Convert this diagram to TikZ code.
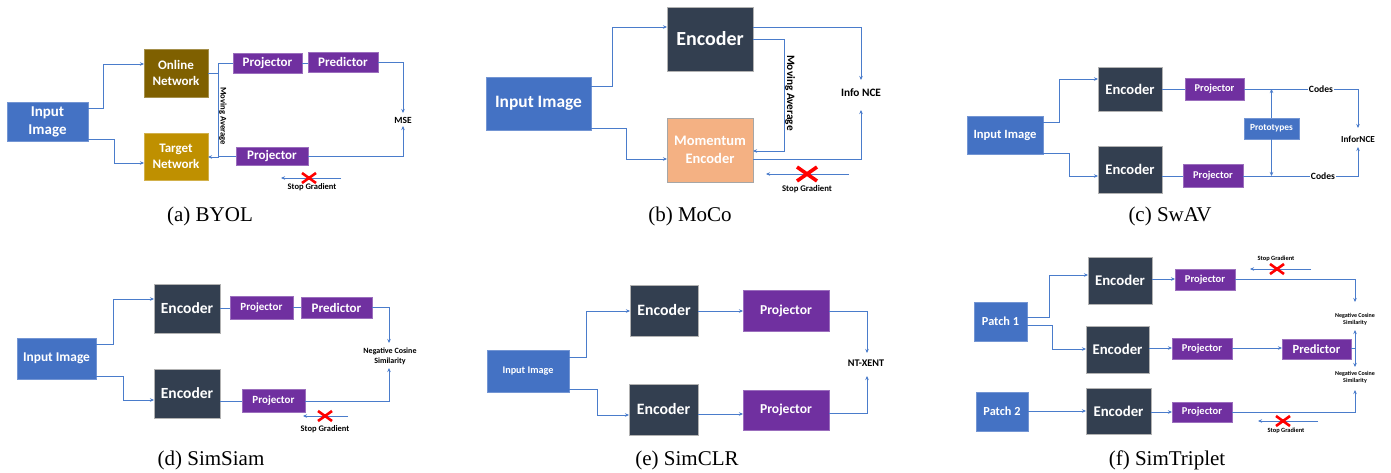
\documentclass[tikz,border=0pt]{standalone}
\usepackage{fontspec}
\setmainfont{Carlito}
\newfontfamily\capfont{Liberation Serif}
\usetikzlibrary{arrows.meta}
\definecolor{cblue}{HTML}{4472C4}
\definecolor{cline}{HTML}{4A7CCB}
\definecolor{cdark}{HTML}{333F50}
\definecolor{cpurple}{HTML}{7030A0}
\definecolor{cbrown}{HTML}{7F6000}
\definecolor{cgold}{HTML}{BF9000}
\definecolor{corange}{HTML}{F4B183}
\definecolor{cred}{HTML}{FF0000}
\begin{document}
\begin{tikzpicture}[x=1pt,y=-1pt,
 box/.style={inner sep=0pt, outer sep=0pt, text=white, align=center, line width=0.6pt},
 sz/.style 2 args={minimum width=#1, minimum height=#2},
 fs/.style 2 args={font=\fontsize{#1}{#2}\selectfont\bfseries},
 blu/.style={box, fill=cblue, draw=cblue!75!white},
 enc/.style={box, fill=cdark, draw=gray!60},
 pur/.style={box, fill=cpurple, draw=cpurple!70!white},
 lbl/.style={inner sep=1pt, outer sep=0pt, text=black, align=center},
 ln/.style={draw=cline, line width=0.9pt},
 arr/.style={ln, -{Stealth[length=4pt,width=3.5pt]}},
 captxt/.style={anchor=base, font=\capfont\fontsize{21}{24}\selectfont},
 xs/.pic={\draw[cred, line width=2.6pt] (-7,-5) -- (7,5) (-7,5) -- (7,-5);},
 xl/.pic={\draw[cred, line width=3.6pt] (-10,-7) -- (10,7) (-10,7) -- (10,-7);}
]
\fill[white] (0,0) rectangle (1391,472);
\useasboundingbox (0,0) rectangle (1391,472);

% ================= (a) BYOL =================
\node[blu, sz={81}{39}, fs={15}{18}] (inA) at (47.5,121.5) {Input\\Image};
\node[box, fill=cbrown, draw=cbrown!70!white, sz={64}{48}, fs={13}{16}] (onA) at (176,73) {Online\\Network};
\node[box, fill=cgold, draw=cgold!70!white, sz={64}{47}, fs={13}{16}] (tgA) at (176,156.5) {Target\\Network};
\node[pur, sz={69}{20}, fs={13}{15}] (prA1) at (267.5,63) {Projector};
\node[pur, sz={70}{20}, fs={13}{15}] (pdA) at (343,62) {Predictor};
\node[pur, sz={72}{18}, fs={13}{15}] (prA2) at (272,156) {Projector};
\node[lbl, fs={9.4}{11}] (mseA) at (403,120) {MSE};
\node[lbl, rotate=-90, fs={8.6}{10}] (maA) at (223,116) {Moving Average};
\draw[arr] (inA.east |- 0,108) -| (103,64) -- (onA.west |- 0,64);
\draw[arr] (inA.east |- 0,139) -| (114,163) -- (tgA.west |- 0,163);
\draw[ln] (onA.east |- 0,73) -| (218,63) -- (prA1.west);
\draw[arr] (218,63) -- (218,157) -- (tgA.east |- 0,157);
\draw[ln] (prA2.west) -- (218,156);
\draw[ln] (prA1.east) -- (pdA.west |- prA1.east);
\draw[arr] (pdA.east) -| (mseA.center |- 0,113);
\draw[arr] (prA2.east) -| (mseA.center |- 0,126);
\coordinate (sgA1) at (341,178);
\coordinate (sgA2) at (281,178);
\draw[arr] (sgA1) -- (sgA2);
\pic at (309,178) {xs};
\node[lbl, fs={8.5}{10}] (sgtA) at (312,187) {Stop Gradient};
\node[captxt] (capA) at (210,221) {(a) BYOL};

% ================= (b) MoCo =================
\node[blu, sz={105}{53}, fs={17.4}{20}] (inB) at (538.5,103.5) {Input Image};
\node[enc, sz={86}{64}, fs={20}{24}] (encB) at (710,39) {Encoder};
\node[box, fill=corange, draw=gray!70, sz={86}{64}, fs={14.5}{18}] (momB) at (710,150) {Momentum\\Encoder};
\node[lbl, fs={11.3}{13}] (nceB) at (861,93) {Info NCE};
\node[lbl, rotate=-90, fs={11.3}{13}] (maB) at (790,93) {Moving Average};
\draw[arr] (inB.east |- 0,86) -| (612,27) -- (encB.west |- 0,27);
\draw[arr] (inB.east |- 0,128) -| (626,159) -- (momB.west |- 0,159);
\draw[arr] (encB.east |- 0,27) -| (nceB.center |- 0,80);
\draw[arr] (encB.east |- 0,39) -| (784,151) -- (momB.east |- 0,151);
\draw[arr] (momB.east |- 0,159) -| (nceB.center |- 0,110);
\coordinate (sgB1) at (849,174);
\coordinate (sgB2) at (766,174);
\draw[arr] (sgB1) -- (sgB2);
\pic at (807,174) {xl};
\node[lbl, fs={8.7}{10}] (sgtB) at (807,189) {Stop Gradient};
\node[captxt] (capB) at (690,221) {(b) MoCo};

% ================= (c) SwAV =================
\node[blu, sz={76}{38}, fs={12.6}{15}] (inC) at (1005,135) {Input Image};
\node[enc, sz={64}{44}, fs={14.6}{17}] (encC1) at (1130,89) {Encoder};
\node[enc, sz={64}{47}, fs={14.6}{17}] (encC2) at (1130,169.5) {Encoder};
\node[pur, sz={59}{22}, fs={10.4}{12}] (prC1) at (1214.5,89) {Projector};
\node[pur, sz={60}{23}, fs={10.4}{12}] (prC2) at (1213,175.5) {Projector};
\node[blu, sz={55}{21}, fs={9.4}{11}] (protoC) at (1271.5,128.5) {Prototypes};
\node[lbl, fs={9.6}{11}] (codesC1) at (1321,89) {Codes};
\node[lbl, fs={9.6}{11}] (codesC2) at (1323,176) {Codes};
\node[lbl, fs={9.2}{11}] (nceC) at (1358,139) {InforNCE};
\draw[arr] (inC.east |- 0,122) -| (1059,79) -- (encC1.west |- 0,79);
\draw[arr] (inC.east |- 0,153) -| (1069,176) -- (encC2.west |- 0,176);
\draw[ln] (encC1.east) -- (prC1.west);
\draw[ln] (encC2.east |- 0,176) -- (prC2.west |- 0,176);
\draw[ln] (prC1.east) -- (codesC1.west);
\draw[ln] (prC2.east |- 0,176) -- (codesC2.west);
\draw[arr] (codesC1.east) -| (nceC.center |- 0,128);
\draw[arr] (codesC2.east) -| (nceC.center |- 0,147);
\draw[arr] (protoC.north) -- (protoC.north |- 0,89);
\draw[arr] (protoC.south) -- (protoC.south |- 0,176);
\node[captxt] (capC) at (1170,221) {(c) SwAV};

% ================= (d) SimSiam =================
\node[blu, sz={79}{41}, fs={13.4}{16}] (inD) at (56.5,358.5) {Input Image};
\node[enc, sz={66}{49}, fs={15.5}{18}] (encD1) at (187,308.5) {Encoder};
\node[enc, sz={66}{49}, fs={15.5}{18}] (encD2) at (187,393.5) {Encoder};
\node[pur, sz={63}{23}, fs={11}{13}] (prD1) at (261.5,307.5) {Projector};
\node[pur, sz={71}{21}, fs={13}{15}] (pdD) at (336.5,307.5) {Predictor};
\node[pur, sz={63}{23}, fs={11}{13}] (prD2) at (273.5,400.5) {Projector};
\node[lbl, fs={8}{10}] (ncsD) at (390,356) {Negative Cosine\\Similarity};
\draw[arr] (inD.east |- 0,344) -| (113,299) -- (encD1.west |- 0,299);
\draw[arr] (inD.east |- 0,376) -| (123,400) -- (encD2.west |- 0,400);
\draw[ln] (encD1.east |- 0,308) -- (prD1.west |- 0,308);
\draw[ln] (prD1.east) -- (pdD.west);
\draw[arr] (pdD.east) -| (389,343);
\draw[ln] (encD2.east |- 0,401) -- (prD2.west |- 0,401);
\draw[arr] (prD2.east |- 0,401) -| (389,368);
\coordinate (sgD1) at (348,416);
\coordinate (sgD2) at (303,416);
\draw[arr] (sgD1) -- (sgD2);
\pic at (325,416) {xs};
\node[lbl, fs={8.5}{10}] (sgtD) at (325,429) {Stop Gradient};
\node[captxt] (capD) at (211,465) {(d) SimSiam};

% ================= (e) SimCLR =================
\node[blu, sz={82}{42}, fs={10.2}{12}] (inE) at (528,371) {Input Image};
\node[enc, sz={68}{51}, fs={15.8}{18}] (encE1) at (664,310.5) {Encoder};
\node[enc, sz={69}{51}, fs={15.8}{18}] (encE2) at (663.5,409.5) {Encoder};
\node[pur, sz={86}{41}, fs={13.6}{16}] (prE1) at (786,310.5) {Projector};
\node[pur, sz={86}{40}, fs={13.6}{16}] (prE2) at (786,410) {Projector};
\node[lbl, fs={10.2}{12}] (ntE) at (866,363) {NT-XENT};
\draw[arr] (inE.east |- 0,357) -| (586,311) -- (encE1.west |- 0,311);
\draw[arr] (inE.east |- 0,389) -| (597,415) -- (encE2.west |- 0,415);
\draw[arr] (encE1.east |- 0,311) -- (prE1.west |- 0,311);
\draw[arr] (encE2.east |- 0,414) -- (prE2.west |- 0,414);
\draw[arr] (prE1.east |- 0,311) -| (867,353);
\draw[arr] (prE2.east |- 0,413) -| (867,376);
\node[captxt] (capE) at (687,465) {(e) SimCLR};

% ================= (f) SimTriplet =================
\node[blu, sz={53}{39}, fs={12.3}{15}] (p1F) at (1000.5,321.5) {Patch 1};
\node[blu, sz={52}{39}, fs={12.3}{15}] (p2F) at (1002,411.5) {Patch 2};
\node[enc, sz={64}{47}, fs={14.8}{17}] (encF1) at (1120,280.5) {Encoder};
\node[enc, sz={63}{47}, fs={14.8}{17}] (encF2) at (1117.5,349.5) {Encoder};
\node[enc, sz={65}{46}, fs={14.8}{17}] (encF3) at (1118.5,411) {Encoder};
\node[pur, sz={60}{21}, fs={10.5}{12}] (prF1) at (1205,279.5) {Projector};
\node[pur, sz={60}{21}, fs={10.5}{12}] (prF2) at (1202,348.5) {Projector};
\node[pur, sz={60}{20}, fs={10.5}{12}] (prF3) at (1202,412) {Projector};
\node[pur, sz={69}{20}, fs={12.5}{15}] (pdF) at (1316.5,349) {Predictor};
\node[lbl, fs={6}{7.5}] (ncsF1) at (1355,319.5) {Negative Cosine\\Similarity};
\node[lbl, fs={6}{7.5}] (ncsF2) at (1355,377.5) {Negative Cosine\\Similarity};
\draw[arr] (p1F.east |- 0,317) -| (1049,275) -- (encF1.west |- 0,275);
\draw[arr] (p1F.east |- 0,325) -| (1052,349) -- (encF2.west |- 0,349);
\draw[arr] (p2F.east |- 0,411) -- (encF3.west |- 0,411);
\draw[arr] (encF1.east |- 0,279) -- (prF1.west |- 0,279);
\draw[arr] (encF2.east |- 0,348) -- (prF2.west |- 0,348);
\draw[arr] (encF3.east |- 0,412) -- (prF3.west |- 0,412);
\draw[arr] (prF1.east |- 0,279) -| (ncsF1.center |- 0,302);
\draw[arr] (prF2.east |- 0,348) -- (pdF.west |- 0,348);
\coordinate (jF) at (1355,348);
\draw[ln] (pdF.east |- 0,348) -- (jF);
\draw[arr] (jF) -- (ncsF1.center |- 0,330);
\draw[arr] (jF) -- (ncsF2.center |- 0,367);
\draw[arr] (prF3.east |- 0,412) -| (ncsF2.center |- 0,390);
\coordinate (sgF1) at (1311,269);
\coordinate (sgF2) at (1250,269);
\draw[arr] (sgF1) -- (sgF2);
\pic at (1277,269) {xs};
\node[lbl, fs={6.4}{8}] (sgtF1) at (1276,259) {Stop Gradient};
\coordinate (sgF3) at (1318,421);
\coordinate (sgF4) at (1258,421);
\draw[arr] (sgF3) -- (sgF4);
\pic at (1283,421) {xs};
\node[lbl, fs={6.4}{8}] (sgtF2) at (1286,431) {Stop Gradient};
\node[captxt] (capF) at (1167,465) {(f) SimTriplet};
\end{tikzpicture}
\end{document}
